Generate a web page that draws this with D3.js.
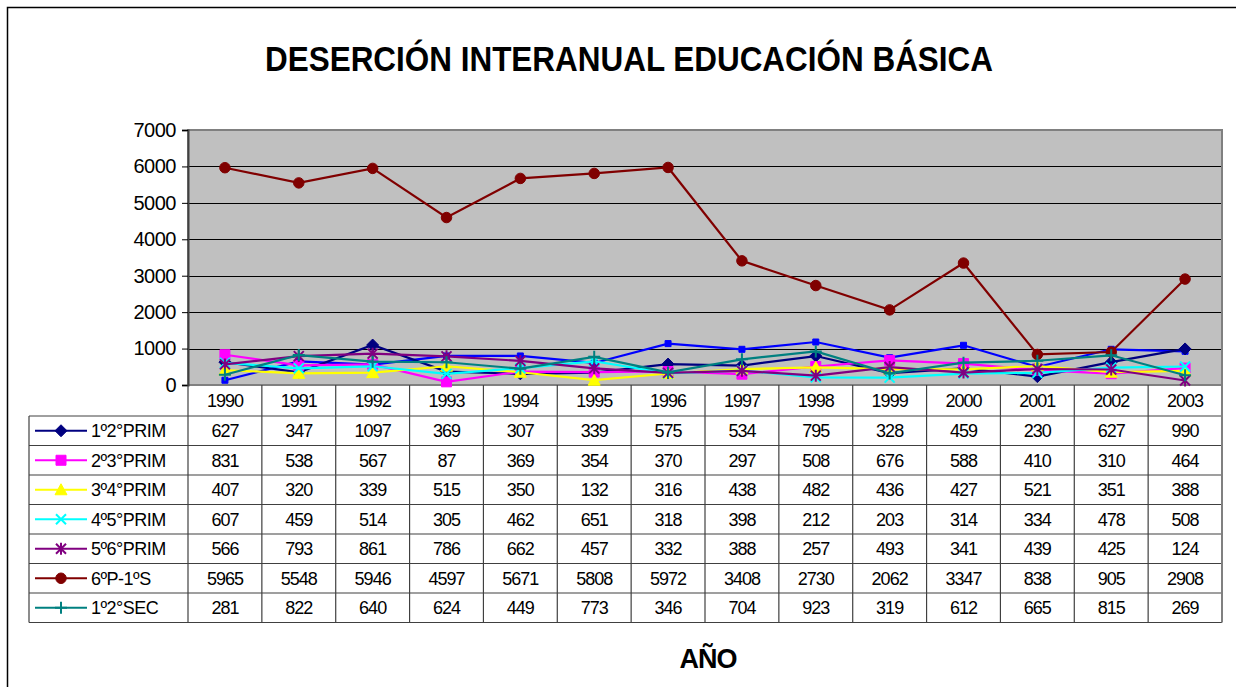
<!DOCTYPE html>
<meta charset="utf-8">
<style>
    body { margin: 0; background: #fff; }
    text { font-family: "Liberation Sans", Arial, sans-serif; fill: #000; }
    .titulo { font-size: 35px; font-weight: bold; text-anchor: middle; }
    .eje text { font-size: 20px; letter-spacing: -0.5px; }
    .tabla text { font-size: 18px; letter-spacing: -1px; text-anchor: middle; }
    .leyenda text { font-size: 18px; letter-spacing: -0.5px; }
    .anio { font-size: 27px; font-weight: bold; text-anchor: middle; letter-spacing: -1px; }
</style>
<body>
<script src="https://d3js.org/d3.v7.min.js"></script>
<script>
    // datos
    var anios = ["1990", "1991", "1992", "1993", "1994", "1995", "1996", "1997", "1998", "1999", "2000", "2001", "2002", "2003"];
    var prim12 = [627, 347, 1097, 369, 307, 339, 575, 534, 795, 328, 459, 230, 627, 990];
    var prim23 = [831, 538, 567, 87, 369, 354, 370, 297, 508, 676, 588, 410, 310, 464];
    var prim34 = [407, 320, 339, 515, 350, 132, 316, 438, 482, 436, 427, 521, 351, 388];
    var prim45 = [607, 459, 514, 305, 462, 651, 318, 398, 212, 203, 314, 334, 478, 508];
    var prim56 = [566, 793, 861, 786, 662, 457, 332, 388, 257, 493, 341, 439, 425, 124];
    var p6s1 = [5965, 5548, 5946, 4597, 5671, 5808, 5972, 3408, 2730, 2062, 3347, 838, 905, 2908];
    var sec12 = [281, 822, 640, 624, 449, 773, 346, 704, 923, 319, 612, 665, 815, 269];
    // serie sin leyenda (linea azul del grafico, valores estimados)
    var sinLeyenda = [130, 650, 560, 797, 797, 605, 1137, 980, 1180, 750, 1090, 495, 980, 925];
    var yTicks = [0, 1000, 2000, 3000, 4000, 5000, 6000, 7000];

    var series = [
        { nombre: "1º2°PRIM", valores: prim12, color: "#000080", marca: "diamante" },
        { nombre: "2º3°PRIM", valores: prim23, color: "#FF00FF", marca: "cuadrado" },
        { nombre: "3º4°PRIM", valores: prim34, color: "#FFFF00", marca: "triangulo" },
        { nombre: "4º5°PRIM", valores: prim45, color: "#00FFFF", marca: "equis" },
        { nombre: "5º6°PRIM", valores: prim56, color: "#800080", marca: "asterisco" },
        { nombre: "6ºP-1ºS", valores: p6s1, color: "#800000", marca: "circulo" },
        { nombre: "1º2°SEC", valores: sec12, color: "#008080", marca: "mas" }
    ];

    var W = 1236, H = 687;
    var plot = { left: 188, right: 1222, top: 130, bottom: 385 };
    var tabla = { left: 29, headerH: 31, rowH: 29.5 };

    var svg = d3.select("body").append("svg").attr("width", W).attr("height", H);

    // marco exterior
    svg.append("rect").attr("x", 7.5).attr("y", 7.5).attr("width", W + 20).attr("height", H + 20)
        .attr("fill", "none").attr("stroke", "#000").attr("stroke-width", 1.5);

    svg.append("text").attr("class", "titulo").attr("x", 629).attr("y", 71)
        .attr("textLength", 728).attr("lengthAdjust", "spacingAndGlyphs")
        .text("DESERCIÓN INTERANUAL EDUCACIÓN BÁSICA");

    // escalas
    var x = d3.scaleBand().domain(anios).range([plot.left, plot.right]);
    var y = d3.scaleLinear().domain([0, 7000]).range([plot.bottom, plot.top]);
    var cx = function(i) { return x(anios[i]) + x.bandwidth() / 2; };

    // area de trazado
    svg.append("rect").attr("x", plot.left).attr("y", plot.top)
        .attr("width", plot.right - plot.left).attr("height", plot.bottom - plot.top)
        .attr("fill", "#C0C0C0");

    svg.append("g").selectAll("line").data(yTicks.slice(1)).enter().append("line")
        .attr("x1", plot.left).attr("x2", plot.right)
        .attr("y1", function(d) { return Math.round(y(d)) + 0.5; })
        .attr("y2", function(d) { return Math.round(y(d)) + 0.5; })
        .attr("stroke", "#000").attr("stroke-width", 1);

    svg.append("rect").attr("x", plot.left).attr("y", plot.top)
        .attr("width", plot.right - plot.left).attr("height", plot.bottom - plot.top)
        .attr("fill", "none").attr("stroke", "#808080").attr("stroke-width", 2);

    // eje Y
    var eje = svg.append("g").attr("class", "eje")
        .attr("transform", "translate(" + plot.left + ",0)")
        .call(d3.axisLeft(y).tickValues(yTicks).tickSize(6).tickPadding(6).tickFormat(d3.format("d")));
    eje.select(".domain").attr("stroke", "#404040").attr("stroke-width", 2);
    eje.selectAll(".tick line").attr("stroke", "#000");
    eje.selectAll("text").attr("font-family", null).attr("font-size", null);

    // marcas
    function marca(tipo, s) {
        var h = s / 2;
        switch (tipo) {
            case "diamante": return "M0," + (-h - 1) + "L" + (h + 1) + ",0L0," + (h + 1) + "L" + (-h - 1) + ",0Z";
            case "cuadrado": return "M" + (-h) + "," + (-h) + "h" + s + "v" + s + "h" + (-s) + "Z";
            case "triangulo": return "M0," + (-h - 1) + "L" + (h + 1) + "," + (h) + "L" + (-h - 1) + "," + (h) + "Z";
            case "equis": return "M" + (-h) + "," + (-h) + "L" + h + "," + h + "M" + (-h) + "," + h + "L" + h + "," + (-h);
            case "asterisco": return "M" + (-h) + "," + (-h) + "L" + h + "," + h + "M" + (-h) + "," + h + "L" + h + "," + (-h) + "M0," + (-h - 1) + "L0," + (h + 1);
            case "mas": return "M" + (-h - 1) + ",0L" + (h + 1) + ",0M0," + (-h - 1) + "L0," + (h + 1);
            case "circulo": return d3.symbol(d3.symbolCircle, Math.PI * h * h)();
            case "cuadradito": return "M-3,-3h6v6h-6Z";
        }
    }
    var rellena = { diamante: true, cuadrado: true, triangulo: true, circulo: true, cuadradito: true };

    function dibujaSerie(g, valores, color, tipo, tam) {
        var linea = d3.line().x(function(d, i) { return cx(i); }).y(function(d) { return y(d); });
        g.append("path").datum(valores).attr("d", linea)
            .attr("fill", "none").attr("stroke", color).attr("stroke-width", 2.2);
        g.selectAll("path.m").data(valores).enter().append("path").attr("class", "m")
            .attr("transform", function(d, i) { return "translate(" + cx(i) + "," + y(d) + ")"; })
            .attr("d", marca(tipo, tam))
            .attr("fill", rellena[tipo] ? color : "none")
            .attr("stroke", color).attr("stroke-width", rellena[tipo] ? 1 : 2);
    }

    var lineas = svg.append("g");
    dibujaSerie(lineas.append("g"), sinLeyenda, "#0000FF", "cuadradito", 6);
    series.forEach(function(s) {
        dibujaSerie(lineas.append("g"), s.valores, s.color, s.marca, s.marca === "circulo" ? 10.5 : 10);
    });

    // tabla de datos
    var t = svg.append("g").attr("class", "tabla");
    var yHead = plot.bottom, yRows = plot.bottom + tabla.headerH;
    var yFin = yRows + tabla.rowH * series.length;
    var colorLinea = "#404040";

    // cabecera de años
    t.selectAll("text.anio-col").data(anios).enter().append("text").attr("class", "anio-col")
        .attr("x", function(d) { return x(d) + x.bandwidth() / 2; })
        .attr("y", yHead + tabla.headerH / 2 + 6)
        .text(function(d) { return d; });

    // lineas horizontales
    t.append("line").attr("x1", tabla.left).attr("x2", plot.right)
        .attr("y1", yRows).attr("y2", yRows).attr("stroke", colorLinea);
    series.forEach(function(s, k) {
        var yy = yRows + tabla.rowH * (k + 1);
        t.append("line").attr("x1", tabla.left).attr("x2", plot.right)
            .attr("y1", yy).attr("y2", yy).attr("stroke", colorLinea).attr("stroke-width", 1.2);
    });
    // lineas verticales
    t.append("line").attr("x1", tabla.left).attr("x2", tabla.left)
        .attr("y1", yRows).attr("y2", yFin).attr("stroke", colorLinea).attr("stroke-width", 1.2);
    anios.forEach(function(a) {
        t.append("line").attr("x1", x(a)).attr("x2", x(a))
            .attr("y1", yHead).attr("y2", yFin).attr("stroke", colorLinea).attr("stroke-width", 1.2);
    });
    t.append("line").attr("x1", plot.right).attr("x2", plot.right)
        .attr("y1", yHead).attr("y2", yFin).attr("stroke", "#808080").attr("stroke-width", 2);

    // filas
    series.forEach(function(s, k) {
        var yc = yRows + tabla.rowH * k + tabla.rowH / 2;
        t.selectAll("text.v" + k).data(s.valores).enter().append("text").attr("class", "v" + k)
            .attr("x", function(d, i) { return cx(i); })
            .attr("y", yc + 6.5)
            .text(function(d) { return d; });

        var ley = svg.append("g").attr("class", "leyenda").attr("transform", "translate(0," + yc + ")");
        ley.append("line").attr("x1", 35).attr("x2", 87).attr("y1", 0).attr("y2", 0)
            .attr("stroke", s.color).attr("stroke-width", 2);
        ley.append("path").attr("transform", "translate(61,0)")
            .attr("d", marca(s.marca, s.marca === "circulo" ? 10.5 : 10))
            .attr("fill", rellena[s.marca] ? s.color : "none")
            .attr("stroke", s.color).attr("stroke-width", rellena[s.marca] ? 1 : 2);
        ley.append("text").attr("x", 91).attr("y", 6.5).text(s.nombre);
    });

    svg.append("text").attr("class", "anio").attr("x", 708).attr("y", 668).text("AÑO");
</script>
</body>
